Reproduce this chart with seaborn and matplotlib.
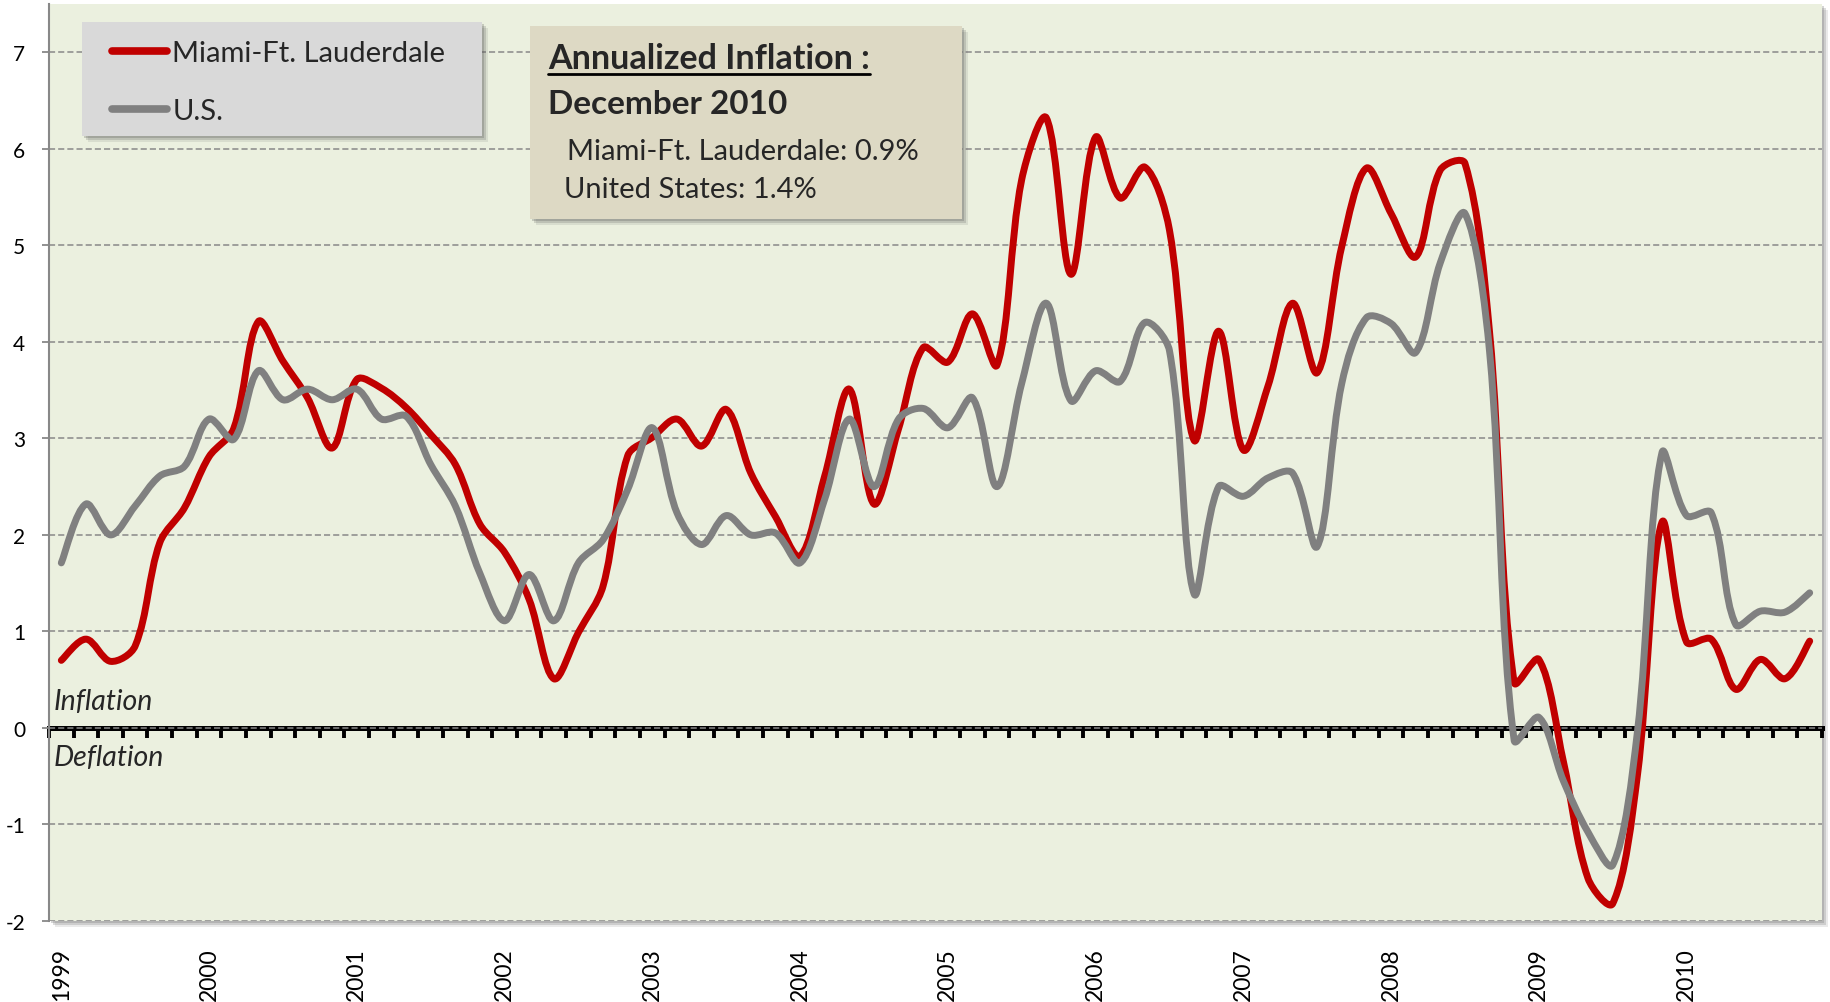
import numpy as np
import pandas as pd
import seaborn as sns
import matplotlib.pyplot as plt
from matplotlib.path import Path
from matplotlib.patches import PathPatch, Rectangle
from matplotlib.lines import Line2D

# bimonthly annualized CPI inflation, 6 readings per year, 1999-2010
years = list(range(1999, 2011))
per_year = 6

miami = [0.70, 0.92, 0.69, 0.85, 1.92, 2.28,
         2.81, 3.10, 4.21, 3.80, 3.42, 2.90,
         3.61, 3.52, 3.32, 3.04, 2.73, 2.11,
         1.82, 1.33, 0.51, 0.99, 1.47, 2.82,
         3.01, 3.20, 2.92, 3.30, 2.64, 2.19,
         1.78, 2.61, 3.51, 2.32, 3.10, 3.94,
         3.79, 4.29, 3.76, 5.68, 6.32, 4.70,
         6.12, 5.49, 5.81, 5.16, 2.98, 4.11,
         2.88, 3.54, 4.40, 3.68, 4.99, 5.80,
         5.33, 4.88, 5.78, 5.85, 4.10, 0.47,
         0.71, -0.35, -1.56, -1.82, -0.50, 2.13,
         0.89, 0.92, 0.40, 0.71, 0.51, 0.90]

us = [1.71, 2.32, 2.00, 2.30, 2.61, 2.71,
      3.20, 2.99, 3.70, 3.40, 3.51, 3.40,
      3.51, 3.20, 3.23, 2.73, 2.30, 1.60,
      1.11, 1.59, 1.11, 1.71, 1.95, 2.47,
      3.11, 2.23, 1.90, 2.20, 2.00, 2.02,
      1.71, 2.37, 3.20, 2.50, 3.20, 3.31,
      3.11, 3.42, 2.50, 3.57, 4.40, 3.39,
      3.70, 3.59, 4.20, 3.91, 1.39, 2.50,
      2.40, 2.59, 2.64, 1.88, 3.57, 4.25,
      4.19, 3.89, 4.82, 5.33, 3.90, -0.13,
      0.11, -0.55, -1.08, -1.42, -0.05, 2.85,
      2.20, 2.23, 1.07, 1.21, 1.20, 1.40]

series_names = ["Miami-Ft. Lauderdale", "U.S."]
colors = ["#C00000", "#808080"]

n = len(miami)
df = pd.DataFrame({
    "idx": list(range(n)) * 2,
    "value": miami + us,
    "series": [series_names[0]] * n + [series_names[1]] * n,
})

sns.set_theme(style="white")
plt.rcParams["font.family"] = ["Lato", "DejaVu Sans"]

W, H = 1831, 1003
fig = plt.figure(figsize=(W / 100, H / 100), dpi=100)
L, R, T, B = 49, 1822, 5, 922
ax = fig.add_axes([L / W, 1 - B / H, (R - L) / W, (B - T) / H])
ax.set_facecolor("#EBF0DF")

# plot area drop shadow
for off, a in [(6, 0.15), (4, 0.25), (2, 0.3)]:
    fig.patches.append(Rectangle(((L + off) / W, 1 - (B + off) / H), (R - L) / W, (B - T) / H,
                                 transform=fig.transFigure, color="#777777", alpha=a,
                                 zorder=-5, lw=0))

sns.lineplot(data=df, x="idx", y="value", hue="series", hue_order=series_names,
             palette=colors, lw=5, ax=ax, legend=False)

ax.set_xlim(-0.5, n - 0.5)
ax.set_ylim(-2, 7.5)
ax.set_xlabel("")
ax.set_ylabel("")


def smooth_path(ax, xs, ys, f=1 / 3):
    # Excel-like smoothing: bezier handles weighted by neighbouring segment lengths (screen space)
    p = ax.transData.transform(np.column_stack([xs, ys]))
    cin, cout = p.copy(), p.copy()
    for i in range(1, len(p) - 1):
        d01 = np.hypot(*(p[i] - p[i - 1]))
        d12 = np.hypot(*(p[i + 1] - p[i]))
        t = p[i + 1] - p[i - 1]
        s = d01 + d12
        cin[i] = p[i] - f * d01 / s * t
        cout[i] = p[i] + f * d12 / s * t
    cout[0] = p[0] + (p[1] - p[0]) * f / 2
    cin[-1] = p[-1] - (p[-1] - p[-2]) * f / 2
    verts, codes = [p[0]], [Path.MOVETO]
    for i in range(len(p) - 1):
        verts += [cout[i], cin[i + 1], p[i + 1]]
        codes += [Path.CURVE4] * 3
    verts = ax.transData.inverted().transform(np.array(verts))
    return Path(verts, codes)


# swap seaborn's straight segments for smoothed curves
for k, line in enumerate(list(ax.lines)):
    xy = line.get_xydata()
    patch = PathPatch(smooth_path(ax, xy[:, 0], xy[:, 1]), fill=False,
                      edgecolor=line.get_color(), lw=5, capstyle="round",
                      joinstyle="round", zorder=3 + k)
    ax.add_patch(patch)
    line.set_visible(False)

ax.set_yticks(range(-2, 8))
ax.set_yticklabels([str(v) for v in range(-2, 8)])
ax.yaxis.grid(True, color="#888888", lw=1.1, ls=(0, (4, 2)))
ax.xaxis.grid(False)
ax.tick_params(axis="y", left=True, length=5, width=1.3, color="#888888",
               pad=12, labelsize=15, labelcolor="black")

ax.set_xticks([i * per_year for i in range(len(years))])
ax.set_xticklabels([str(y) for y in years], rotation=90)
ax.tick_params(axis="x", bottom=False, length=0, pad=19, labelsize=16.5, labelcolor="black")

for s in ["top", "right", "bottom"]:
    ax.spines[s].set_visible(False)
ax.spines["left"].set_color("#888888")
ax.spines["left"].set_linewidth(1.5)

# zero line with category boundary ticks
zero = ax.secondary_xaxis(0, transform=ax.transData)
zero.set_xticks(np.arange(-0.5, n, 1))
zero.set_xticklabels([])
zero.tick_params(length=7, width=2.8, color="black", direction="out")
for s in zero.spines.values():
    s.set_color("black")
    s.set_linewidth(3.6)

ax.text(0.0025, 0.2, "Inflation", style="italic", fontsize=20.5, va="baseline",
        transform=ax.get_yaxis_transform())
ax.text(0.0025, -0.38, "Deflation", style="italic", fontsize=20.5, va="baseline",
        transform=ax.get_yaxis_transform())


def px_box(x0, y0, x1, y1, color):
    # box given in figure pixels, with a soft shadow
    for off, a in [(6, 0.12), (4, 0.2), (2, 0.25)]:
        fig.patches.append(Rectangle(((x0 + off) / W, 1 - (y1 + off) / H), (x1 - x0) / W,
                                     (y1 - y0) / H, transform=fig.transFigure,
                                     color="#555555", alpha=a, zorder=5, lw=0))
    fig.patches.append(Rectangle((x0 / W, 1 - y1 / H), (x1 - x0) / W, (y1 - y0) / H,
                                 transform=fig.transFigure, color=color, zorder=6, lw=0))


# legend
px_box(82, 23, 482, 137, "#D9D9D9")
handles = [Line2D([], [], color=c, lw=5.5, solid_capstyle="round") for c in colors]
leg = fig.legend(handles, series_names, loc="upper left",
                 bbox_to_anchor=(112 / W, 1 - 41 / H), frameon=False, fontsize=21,
                 handlelength=1.9, handletextpad=0.17, labelspacing=1.1, borderpad=0,
                 borderaxespad=0)
leg.set_zorder(7)

# annotation box
px_box(530, 27, 962, 220, "#DDD9C4")
t1 = fig.text(548 / W, 1 - 69 / H, "Annualized Inflation :", fontsize=24.5, fontweight="bold",
              va="baseline", zorder=7)
fig.text(548 / W, 1 - 114 / H, "December 2010", fontsize=24, fontweight="bold",
         va="baseline", zorder=7)
fig.text(567 / W, 1 - 160 / H, "Miami-Ft. Lauderdale: 0.9%", fontsize=21,
         va="baseline", zorder=7)
fig.text(564 / W, 1 - 198 / H, "United States: 1.4%", fontsize=21,
         va="baseline", zorder=7)

renderer = fig.canvas.get_renderer()
bb = t1.get_window_extent(renderer)
fig.add_artist(Line2D([bb.x0 / W, bb.x1 / W], [1 - 74.5 / H, 1 - 74.5 / H],
                      transform=fig.transFigure, color="black", lw=2, zorder=7))

fig.savefig("out.png", dpi=100)
